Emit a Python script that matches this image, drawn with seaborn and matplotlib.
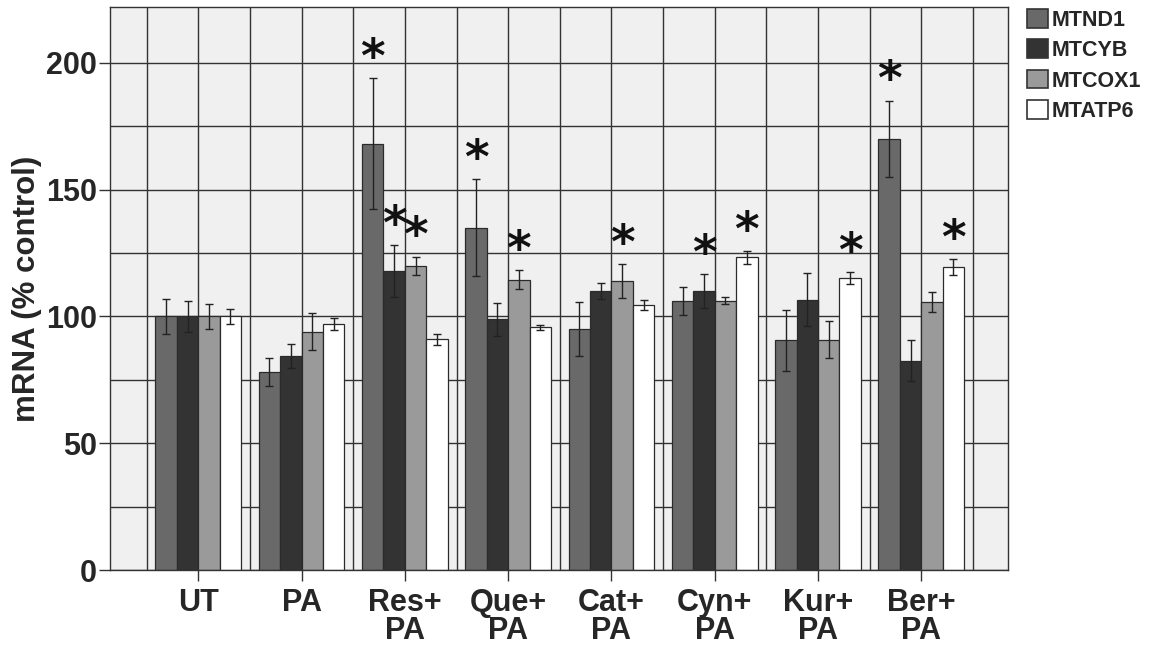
import numpy as np
import pandas as pd
import matplotlib
matplotlib.use("Agg")
import matplotlib.pyplot as plt
from matplotlib.patches import Patch
import seaborn as sns

# ---------------- data ----------------
groups = ["UT", "PA", "Res+\nPA", "Que+\nPA", "Cat+\nPA", "Cyn+\nPA", "Kur+\nPA", "Ber+\nPA"]
genes = ["MTND1", "MTCYB", "MTCOX1", "MTATP6"]

mtnd1 = [100, 78, 168, 135, 95, 106, 90.5, 170]
mtnd1_err = [7, 5.6, 25.8, 19, 10.6, 5.6, 12, 15]
mtcyb = [100, 84.5, 118, 98.8, 110, 110, 106.6, 82.6]
mtcyb_err = [6, 4.8, 10.2, 6.4, 3, 6.6, 10.5, 7.9]
mtcox1 = [100, 94, 120, 114.5, 114, 106.2, 90.8, 105.7]
mtcox1_err = [5, 7.3, 3.6, 3.6, 6.7, 1.5, 7.2, 4]
mtatp6 = [100, 97, 91, 95.7, 104.6, 123.3, 115.2, 119.5]
mtatp6_err = [3, 2.3, 2.2, 1, 2, 2.5, 2.3, 3]

# significance markers: (group index, gene)
stars = [(2, "MTND1"), (2, "MTCYB"), (2, "MTCOX1"),
         (3, "MTND1"), (3, "MTCOX1"),
         (4, "MTCOX1"),
         (5, "MTCYB"), (5, "MTATP6"),
         (6, "MTATP6"),
         (7, "MTND1"), (7, "MTATP6")]

yticks = [0, 50, 100, 150, 200]

# ---------------- styling ----------------
colors = ["#696969", "#333333", "#9a9a9a", "#ffffff"]
sns.set_style("ticks")
plt.rcParams["font.family"] = ["Liberation Sans", "DejaVu Sans"]
plt.rcParams["font.weight"] = "bold"

vals = [mtnd1, mtcyb, mtcox1, mtatp6]
errs = [mtnd1_err, mtcyb_err, mtcox1_err, mtatp6_err]
rows = []
for g, v, e in zip(genes, vals, errs):
    for grp, vv, ee in zip(groups, v, e):
        rows.append({"group": grp, "gene": g, "value": vv, "err": ee})
df = pd.DataFrame(rows)

fig = plt.figure(figsize=(11.5, 6.46), dpi=100)
ax = fig.add_axes([0.0957, 0.1176, 0.7808, 0.8716])
ax.set_facecolor("#f0f0f0")

sns.barplot(data=df, x="group", y="value", hue="gene", order=groups,
            hue_order=genes, palette=dict(zip(genes, colors)), width=0.83,
            errorbar=None, saturation=1, edgecolor="#2b2b2b", linewidth=0.9,
            legend=False, ax=ax)

bar_conts = list(ax.containers[:len(genes)])
centers = {}
for hi, (cont, g) in enumerate(zip(bar_conts, genes)):
    bars = sorted(cont, key=lambda b: b.get_x())
    xs = [b.get_x() + b.get_width() / 2 for b in bars]
    hs = [b.get_height() for b in bars]
    ax.errorbar(xs, hs, yerr=errs[hi], fmt="none", ecolor="#222222",
                elinewidth=1.0, capsize=3.2, capthick=1.0, zorder=5)
    for gi, (x, h) in enumerate(zip(xs, hs)):
        centers[(gi, g)] = (x, h + errs[hi][gi])

for gi, g in stars:
    x, top = centers[(gi, g)]
    ax.text(x, top + 2.5, "*", ha="center", va="baseline", fontsize=34,
            family="DejaVu Sans", fontweight="bold", color="#111111", zorder=6)

ax.set_xlim(-0.855, 7.84)
ax.set_ylim(0, 222)
ax.set_yticks(yticks)
ax.set_yticks([25, 75, 125, 175], minor=True)
ax.set_xticks(range(len(groups)))
ax.set_xticklabels(groups)
ax.set_xticks(np.arange(-0.5, len(groups), 1.0), minor=True)
ax.set_axisbelow(True)
ax.grid(True, which="both", color="#333333", linewidth=1.0)
ax.tick_params(which="minor", length=0)
ax.tick_params(axis="both", which="major", length=8, width=1.0, color="#333333",
               labelsize=22)
ax.tick_params(axis="y", pad=1.5)
ax.tick_params(axis="x", pad=5)
plt.setp(ax.get_xticklabels(), linespacing=0.9)
for sp in ax.spines.values():
    sp.set_visible(True)
    sp.set_color("#333333")
    sp.set_linewidth(1.0)

ax.set_xlabel("")
ax.set_ylabel("mRNA (% control)", fontsize=22.5, fontweight="bold")
ax.yaxis.set_label_coords(-0.0757, 0.5)

handles = [Patch(facecolor=c, edgecolor="#333333", linewidth=1.2) for c in colors]
fig.legend(handles=handles, labels=genes, loc="upper left",
           bbox_to_anchor=(0.893, 0.986), frameon=False, borderpad=0,
           borderaxespad=0, handlelength=1.0, handleheight=0.96,
           handletextpad=0.15, labelspacing=0.4,
           prop=dict(size=15.5, weight="bold"))

fig.savefig("out.png", dpi=100)
